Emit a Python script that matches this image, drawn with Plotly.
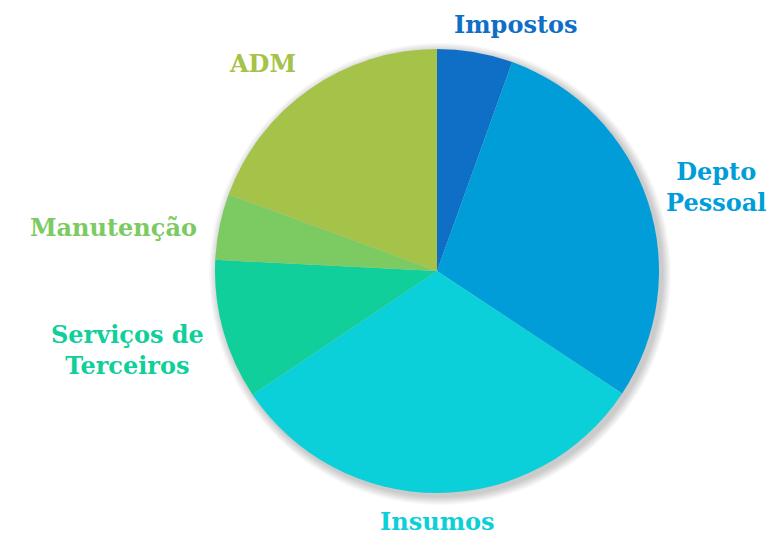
import math
import plotly.graph_objects as go

# ---- data ----
categories = ["Impostos", "Depto Pessoal", "Insumos", "Serviços de Terceiros", "Manutenção", "ADM"]
label_text = ["Impostos", "Depto<br>Pessoal", "Insumos", "Serviços de<br>Terceiros", "Manutenção", "ADM"]
values = [5.5, 28.8, 31.3, 10.2, 4.8, 19.4]

# ---- style ----
colors = ["#0F6FC6", "#009DD9", "#0BD0D9", "#10CF9B", "#7CCA62", "#A5C249"]
anchors = [("left", "bottom"), ("left", "middle"), ("center", "top"),
           ("right", "middle"), ("right", "middle"), ("right", "bottom")]
shifts = [(-25, -3), (2, 9), (0, 3), (-3, -15), (-6, -4), (-4, -3)]

W, H = 774, 535
CX, CY, R = 437, 271, 222   # pixel centre (from top) and radius
GAP = 16
FONT = "DejaVu Serif"
FSIZE = 24

fig = go.Figure()
fig.add_trace(go.Pie(
    labels=categories, values=values, sort=False, direction="clockwise", rotation=0,
    marker=dict(colors=colors, line=dict(width=0)),
    textinfo="none", hoverinfo="label+percent", showlegend=False,
    domain=dict(x=[(CX - R) / W, (CX + R) / W], y=[(H - CY - R) / H, (H - CY + R) / H]),
))

# soft shadow behind the pie
for i in range(9):
    r = R + 1 + i
    fig.add_shape(type="circle", xref="paper", yref="paper", layer="below",
                  x0=(CX + 3 - r) / W, x1=(CX + 3 + r) / W,
                  y0=(H - CY - 3 - r) / H, y1=(H - CY - 3 + r) / H,
                  fillcolor="rgba(0,0,0,0.022)", line=dict(width=0))

total = sum(values)
cum = 0
for i, v in enumerate(values):
    mid = (cum + v / 2) / total * 2 * math.pi
    cum += v
    px = CX + (R + GAP) * math.sin(mid)
    py = CY - (R + GAP) * math.cos(mid)
    xa, ya = anchors[i]
    fig.add_annotation(x=px / W, y=(H - py) / H, xref="paper", yref="paper",
                       text=label_text[i], showarrow=False, xanchor=xa, yanchor=ya,
                       xshift=shifts[i][0], yshift=shifts[i][1], borderpad=0,
                       font=dict(family=FONT, size=FSIZE, color=colors[i], weight="bold"),
                       align="center")

fig.update_layout(width=W, height=H, margin=dict(l=0, r=0, t=0, b=0),
                  paper_bgcolor="white", plot_bgcolor="white",
                  font=dict(family=FONT))
fig.write_html("out.html", config={"displayModeBar": False},
               post_script="document.body.style.margin='0';")
